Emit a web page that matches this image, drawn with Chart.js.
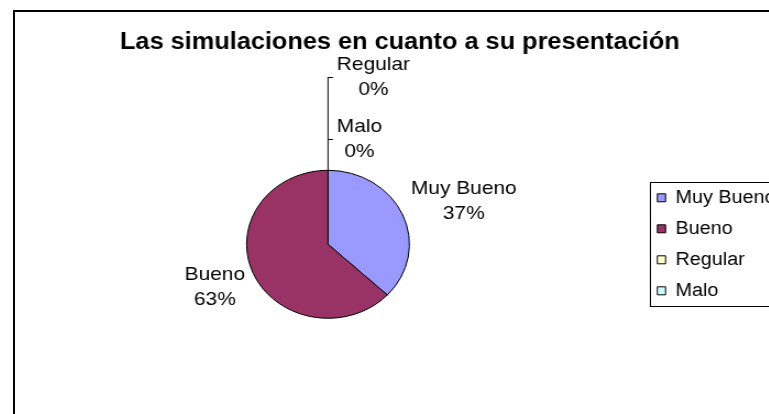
<!DOCTYPE html>
<html>
<head>
<meta charset="utf-8">
<script src="https://cdn.jsdelivr.net/npm/chart.js@4.4.1/dist/chart.umd.min.js"></script>
<style>
  html, body { margin: 0; padding: 0; background: #fff; overflow: hidden; width: 769px; height: 414px; }
  #frame { position: absolute; left: 13px; top: 10px; width: 800px; height: 430px;
           border-left: 2px solid #000; border-top: 2px solid #000; overflow: hidden; }
  #wrap { position: absolute; left: -2px; top: 0; width: 720px; height: 410px;
          transform: scaleX(1.1); transform-origin: 0 0; }
</style>
</head>
<body>
<div id="frame"><div id="wrap"><canvas id="c"></canvas></div></div>
<script>
const titleText = 'Las simulaciones en cuanto a su presentación';
const categories = ['Muy Bueno', 'Bueno', 'Regular', 'Malo'];
const values = [37, 63, 0, 0];
const percentLabels = ['37%', '63%', '0%', '0%'];
const colors = ['#9999FF', '#993366', '#FFFFCC', '#CCFFFF'];

const FONT = '"Liberation Sans", Arial, sans-serif';
const LINE = 25;

function drawBlock(ctx, lines, edgeX, centerY, side) {
  const w = Math.max(...lines.map(t => ctx.measureText(t).width));
  const cx = side > 0 ? edgeX + w / 2 : edgeX - w / 2;
  const y0 = centerY - (lines.length - 1) * LINE / 2;
  lines.forEach((t, k) => ctx.fillText(t, cx, y0 + k * LINE));
}

const pieLabels = {
  id: 'pieLabels',
  afterDraw(chart) {
    const ctx = chart.ctx;
    const meta = chart.getDatasetMeta(0);
    ctx.save();
    ctx.font = '19px ' + FONT;
    ctx.fillStyle = '#000';
    ctx.textAlign = 'center';
    ctx.textBaseline = 'middle';
    meta.data.forEach((arc, i) => {
      if (values[i] <= 0) return;
      const p = arc.getProps(['x', 'y', 'startAngle', 'endAngle', 'outerRadius'], true);
      const mid = (p.startAngle + p.endAngle) / 2;
      const c = Math.cos(mid), s = Math.sin(mid);
      const edgeX = p.x + c * p.outerRadius * 1.11;
      const cy = p.y + s * p.outerRadius * 1.45;
      drawBlock(ctx, [categories[i], percentLabels[i]], edgeX, cy, c >= 0 ? 1 : -1);
    });
    const p0 = meta.data[0].getProps(['x', 'y', 'outerRadius'], true);
    const zeros = [];
    values.forEach((v, i) => { if (v === 0) zeros.push(i); });
    const topY = p0.y - p0.outerRadius;
    ctx.strokeStyle = '#000';
    ctx.lineWidth = 1;
    let highest = topY;
    zeros.slice().reverse().forEach((i, k) => {
      const tickY = Math.round(topY - 31 - k * 62.5);
      highest = tickY;
      drawBlock(ctx, [categories[i], percentLabels[i]], p0.x + 8, tickY, 1);
      ctx.beginPath();
      ctx.moveTo(p0.x, tickY + 0.5);
      ctx.lineTo(p0.x + 4.5, tickY + 0.5);
      ctx.stroke();
    });
    if (zeros.length) {
      ctx.beginPath();
      ctx.moveTo(p0.x, topY);
      ctx.lineTo(p0.x, highest);
      ctx.stroke();
    }
    const lg = chart.legend;
    if (lg && lg.legendHitBoxes && lg.legendHitBoxes.length) {
      const hb = lg.legendHitBoxes;
      const last = hb[hb.length - 1];
      const top = Math.round(hb[0].top - 6.5);
      const bottom = Math.round(last.top + last.height + 6.5);
      const left = Math.round(hb[0].left - 6.5);
      ctx.strokeStyle = '#000';
      ctx.lineWidth = 1;
      ctx.strokeRect(left + 0.5, top + 0.5, 300, bottom - top);
    }
    ctx.restore();
  }
};

new Chart(document.getElementById('c'), {
  type: 'pie',
  data: {
    labels: categories,
    datasets: [{
      data: values,
      backgroundColor: colors,
      borderColor: '#000',
      borderWidth: 1
    }]
  },
  options: {
    responsive: true,
    maintainAspectRatio: false,
    animation: false,
    radius: 74,
    layout: { padding: { left: 0, right: 16.7, top: 0, bottom: 0 } },
    plugins: {
      title: {
        display: true,
        text: titleText,
        color: '#000',
        font: { family: FONT, size: 23, weight: 'bold' },
        padding: { top: 17, bottom: 10 }
      },
      legend: {
        display: true,
        position: 'right',
        fullSize: false,
        labels: {
          color: '#000',
          font: { family: FONT, size: 18 },
          boxWidth: 7.5,
          boxHeight: 8,
          padding: 13
        }
      },
      tooltip: { enabled: false }
    }
  },
  plugins: [pieLabels]
});
</script>
</body>
</html>
